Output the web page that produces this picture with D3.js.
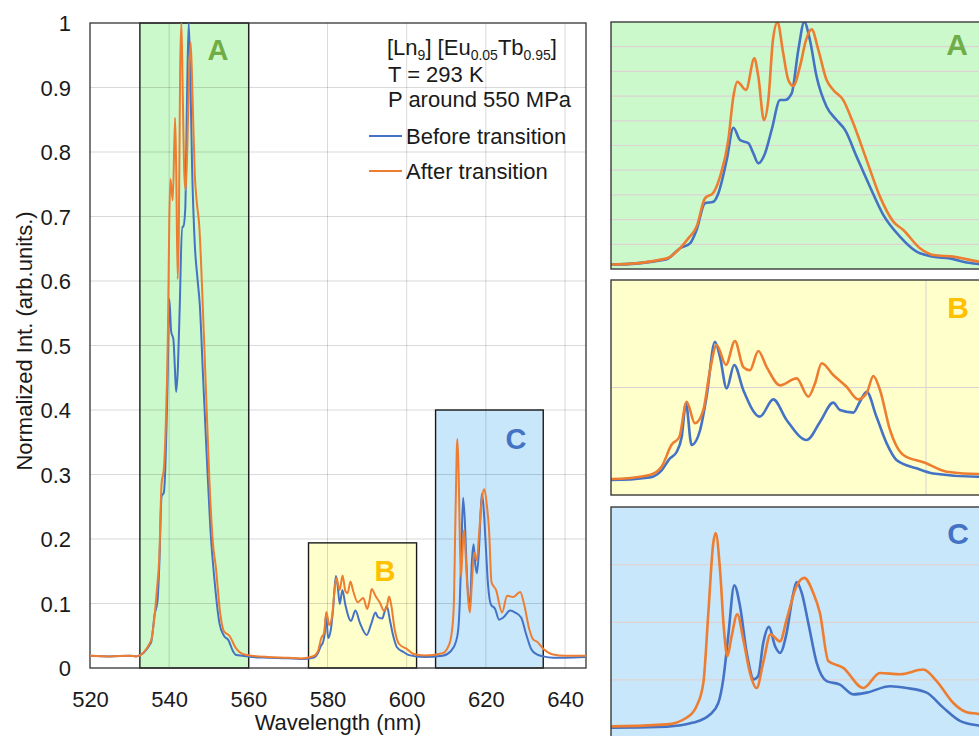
<!DOCTYPE html>
<html>
<head>
<meta charset="utf-8">
<script src="https://cdn.jsdelivr.net/npm/d3@7"></script>
<style>
  html, body { margin: 0; padding: 0; background: #fff; }
  svg { display: block; font-family: "Liberation Sans", Arial, sans-serif; }
</style>
</head>
<body>
<svg id="chart" width="979" height="736"></svg>
<script>
// ---------------- DATA ----------------
const xTicks = [520, 540, 560, 580, 600, 620, 640];
const yTicks = [0, 0.1, 0.2, 0.3, 0.4, 0.5, 0.6, 0.7, 0.8, 0.9, 1];
const yTickLabels = ["0", "0.1", "0.2", "0.3", "0.4", "0.5", "0.6", "0.7", "0.8", "0.9", "1"];
const seriesNames = ["Before transition", "After transition"];
const regionNames = ["A", "B", "C"];
// region boxes: [start nm, end nm, top intensity]
const regionStart = [532.6, 575.2, 607.3];
const regionEnd = [560.1, 602.5, 634.5];
const regionTop = [1.0, 0.194, 0.40];

// [wavelength (nm), normalized intensity]
const before = [
  [520,0.019],[525,0.018],[530,0.019],[531.65,0.018],[535.4,0.039],[536.36,0.084],[537.05,0.104],
  [537.5,0.158],[538.08,0.266],[538.66,0.272],[539.0,0.306],[539.58,0.441],[540.04,0.572],[540.5,0.522],
  [541.08,0.509],[541.42,0.468],[541.76,0.428],[542.22,0.468],[542.68,0.563],[543.26,0.684],[543.6,0.684],
  [544.06,0.711],[544.52,0.887],[544.93,1.0],[545.32,0.927],[545.78,0.779],[546.47,0.657],[547.16,0.603],
  [547.74,0.563],[548.54,0.455],[549.46,0.333],[550.38,0.219],[551.53,0.131],[552.68,0.070],[553.83,0.050],
  [554.98,0.043],[556.13,0.026],[556.94,0.020],[558.5,0.019],[561,0.017],[565,0.016],[570,0.015],
  [573.36,0.014],[576.6,0.0164],[577.6,0.023],[578.3,0.034],[578.87,0.040],[579.3,0.054],[579.66,0.085],
  [580.14,0.0465],[580.85,0.060],[581.41,0.0915],[582.12,0.1426],[582.54,0.1287],[583.11,0.0992],
  [583.75,0.121],[584.52,0.0977],[585.93,0.0729],[587.06,0.089],[588.19,0.0698],[589.89,0.0512],
  [591.02,0.068],[592.14,0.0859],[592.71,0.079],[593.84,0.0766],[594.4,0.0868],[594.97,0.0961],
  [595.8,0.073],[596.67,0.048],[597.5,0.0326],[599.2,0.0248],[600.6,0.020],[604.4,0.017],[609.09,0.019],
  [611.12,0.026],[612.4,0.040],[613.03,0.060],[613.41,0.101],[613.79,0.176],[614.25,0.264],[614.69,0.228],
  [615.2,0.147],[615.75,0.101],[616.08,0.107],[616.46,0.164],[616.9,0.192],[617.36,0.159],[617.74,0.147],
  [618.25,0.182],[618.71,0.245],[619.01,0.270],[619.4,0.251],[619.9,0.199],[620.54,0.130],[621.3,0.098],
  [622.32,0.092],[623.33,0.075],[624.36,0.078],[626.14,0.089],[627.41,0.086],[628.94,0.078],[630.2,0.052],
  [631.48,0.029],[632.88,0.021],[634.5,0.018],[637,0.016],[640,0.016],[645.3,0.017]
];
const after = [
  [520,0.019],[525,0.018],[530,0.019],[531.65,0.018],[535.4,0.042],[536.36,0.084],[536.93,0.124],
  [537.5,0.171],[538.08,0.286],[538.66,0.309],[539.12,0.374],[539.69,0.522],[540.04,0.698],[540.31,0.758],
  [540.91,0.725],[541.49,0.853],[541.76,0.779],[542.15,0.603],[542.45,0.684],[542.77,0.927],[543.09,1.0],
  [543.44,0.887],[543.83,0.765],[544.17,0.741],[544.63,0.819],[545.05,0.927],[545.44,0.970],[545.9,0.887],
  [546.47,0.765],[546.93,0.725],[547.62,0.684],[548.31,0.590],[549.23,0.441],[550.15,0.293],[551.07,0.192],
  [551.76,0.158],[552.91,0.084],[553.83,0.057],[555.21,0.050],[556.94,0.030],[558.5,0.022],[561,0.019],
  [565,0.017],[570,0.016],[573.36,0.0149],[576.6,0.0186],[577.6,0.0264],[578.43,0.0465],[579.1,0.054],
  [579.72,0.0868],[580.42,0.0667],[581.13,0.079],[581.7,0.116],[582.26,0.1395],[583.05,0.121],
  [583.81,0.1433],[584.52,0.119],[585.08,0.116],[585.79,0.134],[586.5,0.119],[587.63,0.102],[589.04,0.1085],
  [590.03,0.0915],[590.6,0.104],[591.16,0.1225],[592.14,0.1116],[593.27,0.1007],[594.26,0.089],
  [594.97,0.0946],[595.54,0.1107],[596.1,0.0977],[596.95,0.0605],[598.08,0.0372],[599.92,0.030],
  [601.75,0.0217],[604.44,0.0195],[609.09,0.023],[610.61,0.0345],[611.38,0.055],[611.89,0.095],
  [612.27,0.216],[612.65,0.338],[612.83,0.355],[613.16,0.292],[613.46,0.188],[613.72,0.141],[614.05,0.176],
  [614.48,0.214],[614.94,0.170],[615.45,0.112],[615.96,0.086],[616.46,0.130],[617.02,0.179],[617.74,0.167],
  [618.25,0.205],[619.01,0.263],[619.6,0.277],[620.28,0.251],[620.79,0.216],[621.43,0.133],[622.57,0.121],
  [624.1,0.086],[625.37,0.112],[626.9,0.110],[628.68,0.118],[629.7,0.098],[630.97,0.060],[631.99,0.044],
  [632.88,0.041],[634.5,0.030],[637,0.021],[640,0.019],[645.3,0.019]
];

// inset views: wavelength window, intensity window, gridlines
const insetWl = [[531.6, 559.12], [573.31, 607.12], [604.84, 635.3]];
const insetInt = [[0, 1], [0, 0.2], [0, 0.4]];
const insetYGrid = [[0.1,0.2,0.3,0.4,0.5,0.6,0.7,0.8,0.9], [0.1], [0.1,0.2,0.3]];
const insetXGrid = [[], [600], []];

// ---------------- STYLE / LAYOUT ----------------
const colors = ["#4472c4", "#ed7d31"];
const fills = ["#ccf9cc", "#ffffcc", "#c9e7fa"];
const labelColors = ["#70ad47", "#ffc000", "#4472c4"];
const svg = d3.select("#chart");
const M = { left: 90, right: 586, top: 23, bottom: 668 };

const x = d3.scaleLinear().domain([520, 645.3]).range([M.left, M.right]);
const y = d3.scaleLinear().domain([0, 1]).range([M.bottom, M.top]);

svg.append("defs").append("clipPath").attr("id", "mainClip")
  .append("rect").attr("x", M.left).attr("y", M.top)
  .attr("width", M.right - M.left).attr("height", M.bottom - M.top);

// region fills
const regions = regionNames.map((n, i) => ({ name: n, s: regionStart[i], e: regionEnd[i], t: regionTop[i], i }));
svg.append("g").selectAll("rect").data(regions).join("rect")
  .attr("x", d => x(d.s)).attr("y", d => y(d.t))
  .attr("width", d => x(d.e) - x(d.s)).attr("height", d => y(0) - y(d.t))
  .attr("fill", d => fills[d.i]);

// gridlines (drawn over fills, semi-transparent)
const grid = svg.append("g").attr("stroke", "rgba(0,0,0,0.15)").attr("stroke-width", 1);
grid.selectAll(".hy").data(yTicks.slice(1, -1)).join("line")
  .attr("x1", M.left).attr("x2", M.right).attr("y1", d => y(d)).attr("y2", d => y(d));
grid.selectAll(".vx").data(xTicks.slice(1)).join("line")
  .attr("y1", M.top).attr("y2", M.bottom).attr("x1", d => x(d)).attr("x2", d => x(d));

// region borders
svg.append("g").selectAll("rect").data(regions).join("rect")
  .attr("x", d => x(d.s)).attr("y", d => y(d.t))
  .attr("width", d => x(d.e) - x(d.s)).attr("height", d => y(0) - y(d.t))
  .attr("fill", "none").attr("stroke", "#1a1a1a").attr("stroke-width", 1.4);

// plot frame
svg.append("rect").attr("x", M.left).attr("y", M.top)
  .attr("width", M.right - M.left).attr("height", M.bottom - M.top)
  .attr("fill", "none").attr("stroke", "#333").attr("stroke-width", 1.3);

// axes
const xAxis = svg.append("g").attr("transform", `translate(0,${M.bottom})`)
  .call(d3.axisBottom(x).tickValues(xTicks).tickSize(0).tickPadding(0).tickFormat(d3.format("d")));
xAxis.select(".domain").remove();
xAxis.selectAll("text").attr("y", 39).attr("dy", null).attr("font-size", 22).attr("fill", "#1a1a1a")
  .attr("font-family", "Liberation Sans, Arial, sans-serif");

const yAxis = svg.append("g").attr("transform", `translate(${M.left},0)`)
  .call(d3.axisLeft(y).tickValues(yTicks).tickSize(0).tickPadding(19).tickFormat((d, i) => yTickLabels[i]));
yAxis.select(".domain").remove();
yAxis.selectAll("text").attr("font-size", 22).attr("fill", "#1a1a1a").attr("dy", "0.36em")
  .attr("font-family", "Liberation Sans, Arial, sans-serif");

svg.append("text").attr("x", (M.left + M.right) / 2).attr("y", 730)
  .attr("text-anchor", "middle").attr("font-size", 22).attr("fill", "#1a1a1a")
  .text("Wavelength (nm)");
svg.append("text").attr("transform", "translate(32,341) rotate(-90)")
  .attr("text-anchor", "middle").attr("font-size", 22).attr("fill", "#1a1a1a")
  .text("Normalized Int. (arb.units.)");

// data lines
const line = (xs, ys) => d3.line().x(d => xs(d[0])).y(d => ys(d[1])).curve(d3.curveMonotoneX);
const lines = svg.append("g").attr("clip-path", "url(#mainClip)");
[before, after].forEach((s, i) => {
  lines.append("path").datum(s).attr("d", line(x, y))
    .attr("fill", "none").attr("stroke", colors[i]).attr("stroke-width", 2).attr("stroke-linejoin", "round");
});

// region labels in main
const mainLabelPos = [[218, 50], [385, 571], [516, 439]];
svg.append("g").selectAll("text").data(regions).join("text")
  .attr("x", (d, i) => mainLabelPos[i][0]).attr("y", (d, i) => mainLabelPos[i][1])
  .attr("dy", "0.36em").attr("text-anchor", "middle").attr("font-size", 29).attr("font-weight", "bold")
  .attr("fill", d => labelColors[d.i]).text(d => d.name);

// annotation text block
const ann = svg.append("g").attr("font-size", 22).attr("fill", "#1a1a1a");
const t1 = ann.append("text").attr("x", 387).attr("y", 55);
t1.append("tspan").text("[Ln");
t1.append("tspan").attr("font-size", 14).attr("dy", 5).text("9");
t1.append("tspan").attr("dy", -5).text("] [Eu");
t1.append("tspan").attr("font-size", 14).attr("dy", 5).text("0.05");
t1.append("tspan").attr("dy", -5).text("Tb");
t1.append("tspan").attr("font-size", 14).attr("dy", 5).text("0.95");
t1.append("tspan").attr("dy", -5).text("]");
ann.append("text").attr("x", 388).attr("y", 81.5).text("T = 293 K");
ann.append("text").attr("x", 388).attr("y", 106.5).text("P around 550 MPa");

// legend
const legY = [136, 171];
seriesNames.forEach((n, i) => {
  svg.append("line").attr("x1", 369).attr("x2", 402).attr("y1", legY[i]).attr("y2", legY[i])
    .attr("stroke", colors[i]).attr("stroke-width", 2);
  svg.append("text").attr("x", 406).attr("y", legY[i]).attr("dy", "0.36em")
    .attr("font-size", 22).attr("fill", "#1a1a1a").text(n);
});

// ---------------- INSETS ----------------
const insetBoxes = [[611, 1010, 22, 269], [611, 1010, 280, 495], [611, 1010, 507, 737.6]];
const insetLabelPos = [[957, 44], [958, 307], [958, 533]];
regions.forEach((r, i) => {
  const [x0, x1, y0, y1] = insetBoxes[i];
  const ix = d3.scaleLinear().domain(insetWl[i]).range([x0, x1]);
  const iy = d3.scaleLinear().domain(insetInt[i]).range([y1, y0]);
  const g = svg.append("g");
  const cid = "clipInset" + i;
  svg.select("defs").append("clipPath").attr("id", cid)
    .append("rect").attr("x", x0).attr("y", y0).attr("width", x1 - x0).attr("height", y1 - y0);
  g.append("rect").attr("x", x0).attr("y", y0).attr("width", x1 - x0).attr("height", y1 - y0)
    .attr("fill", fills[i]);
  g.selectAll(".gy").data(insetYGrid[i]).join("line")
    .attr("x1", x0).attr("x2", x1).attr("y1", d => iy(d)).attr("y2", d => iy(d))
    .attr("stroke", "#ddd3d3").attr("stroke-width", 1.2);
  g.selectAll(".gx").data(insetXGrid[i]).join("line")
    .attr("y1", y0).attr("y2", y1).attr("x1", d => ix(d)).attr("x2", d => ix(d))
    .attr("stroke", "#ddd8d0").attr("stroke-width", 1.2);
  const lg = g.append("g").attr("clip-path", `url(#${cid})`);
  [before, after].forEach((s, k) => {
    lg.append("path").datum(s).attr("d", line(ix, iy))
      .attr("fill", "none").attr("stroke", colors[k]).attr("stroke-width", 2.6).attr("stroke-linejoin", "round");
  });
  g.append("rect").attr("x", x0).attr("y", y0).attr("width", x1 - x0).attr("height", y1 - y0)
    .attr("fill", "none").attr("stroke", "#3a3a3a").attr("stroke-width", 1.4);
  g.append("text").attr("x", insetLabelPos[i][0]).attr("y", insetLabelPos[i][1]).attr("dy", "0.36em")
    .attr("text-anchor", "middle").attr("font-size", 30).attr("font-weight", "bold")
    .attr("fill", labelColors[i]).text(r.name);
});
</script>
</body>
</html>
